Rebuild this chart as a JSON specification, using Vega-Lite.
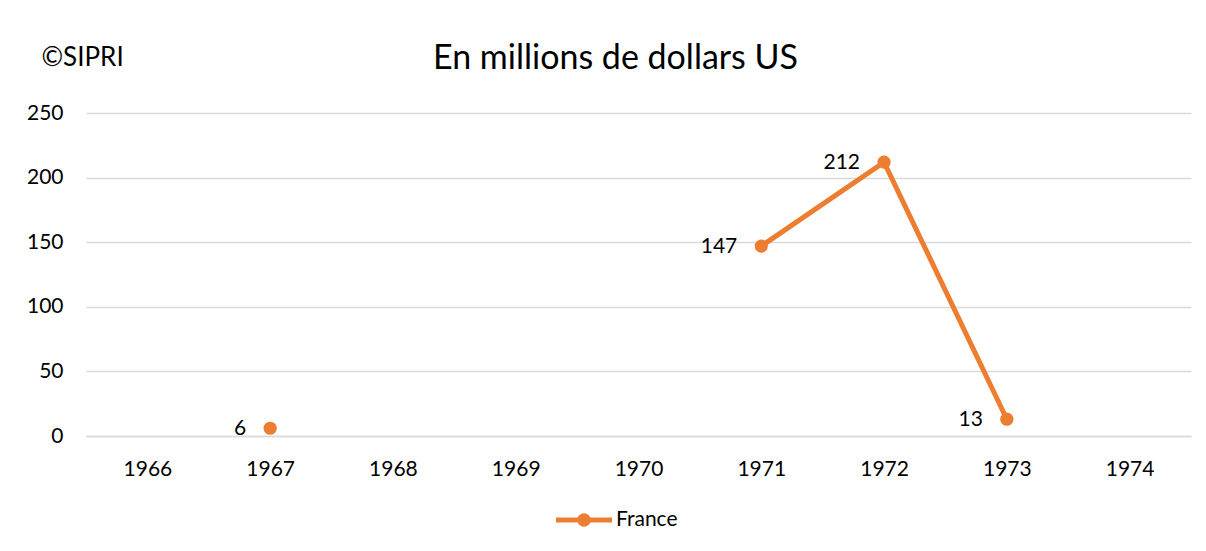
{
  "$schema": "https://vega.github.io/schema/vega-lite/v6.json",
  "width": 1105,
  "height": 323,
  "autosize": {"type": "none"},
  "padding": {"left": 86, "top": 113, "right": 15, "bottom": 115},
  "background": "white",
  "config": {
    "font": "Lato",
    "view": {"stroke": null},
    "axis": {"labelFont": "Lato", "labelColor": "#000000", "labelFontSize": 21, "titleFont": "Lato"},
    "legend": {"labelFont": "Lato", "labelColor": "#000000", "labelFontSize": 21}
  },
  "title": {
    "text": "En millions de dollars US",
    "anchor": "middle",
    "frame": "group",
    "dx": -23,
    "offset": -59,
    "baseline": "alphabetic",
    "fontSize": 34,
    "fontWeight": "normal",
    "font": "Lato",
    "color": "#000000"
  },
  "data": {
    "values": [
      {"year": "1966", "value": null, "country": "France"},
      {"year": "1967", "value": 6, "country": "France"},
      {"year": "1968", "value": null, "country": "France"},
      {"year": "1969", "value": null, "country": "France"},
      {"year": "1970", "value": null, "country": "France"},
      {"year": "1971", "value": 147, "country": "France"},
      {"year": "1972", "value": 212, "country": "France"},
      {"year": "1973", "value": 13, "country": "France"},
      {"year": "1974", "value": null, "country": "France"}
    ]
  },
  "encoding": {
    "x": {
      "field": "year",
      "type": "ordinal",
      "sort": null,
      "axis": {
        "title": null,
        "labelAngle": 0,
        "ticks": false,
        "domain": true,
        "domainColor": "#d9d9d9",
        "domainWidth": 1.3,
        "labelPadding": 22,
        "grid": false
      }
    },
    "y": {
      "field": "value",
      "type": "quantitative",
      "scale": {"domain": [0, 250], "nice": false},
      "axis": {
        "values": [0, 50, 100, 150, 200, 250],
        "title": "©SIPRI",
        "titleAngle": 0,
        "titleAlign": "left",
        "titleBaseline": "alphabetic",
        "titleX": -45,
        "titleY": -48,
        "titleFontSize": 26,
        "titleFontWeight": "normal",
        "titleColor": "#000000",
        "ticks": false,
        "domain": false,
        "labelPadding": 23,
        "grid": true,
        "gridColor": "#d9d9d9",
        "gridWidth": 1.3
      }
    }
  },
  "layer": [
    {
      "mark": {"type": "line", "color": "#ED7D31", "strokeWidth": 5, "invalid": "break-paths-show-domains", "strokeCap": "round"},
      "encoding": {}
    },
    {
      "mark": {"type": "point", "filled": true, "opacity": 1, "size": 175, "strokeWidth": 0},
      "encoding": {
        "color": {
          "field": "country",
          "type": "nominal",
          "scale": {"domain": ["France"], "range": ["#ED7D31"]},
          "legend": {
            "title": null,
            "orient": "none",
            "legendX": 470,
            "legendY": 379,
            "symbolType": "M-1,-0.085 H1 V0.085 H-1 Z M-0.24,0 A0.24,0.24 0 1,1 0.24,0 A0.24,0.24 0 1,1 -0.24,0 Z",
            "symbolSize": 3136,
            "symbolStrokeWidth": 0,
            "symbolOpacity": 1,
            "labelOffset": 4
          }
        }
      }
    },
    {
      "mark": {"type": "text", "align": "right", "baseline": "middle", "dx": -24, "dy": 1, "fontSize": 21, "color": "#000000", "font": "Lato"},
      "encoding": {"text": {"field": "value", "type": "quantitative"}}
    }
  ]
}
